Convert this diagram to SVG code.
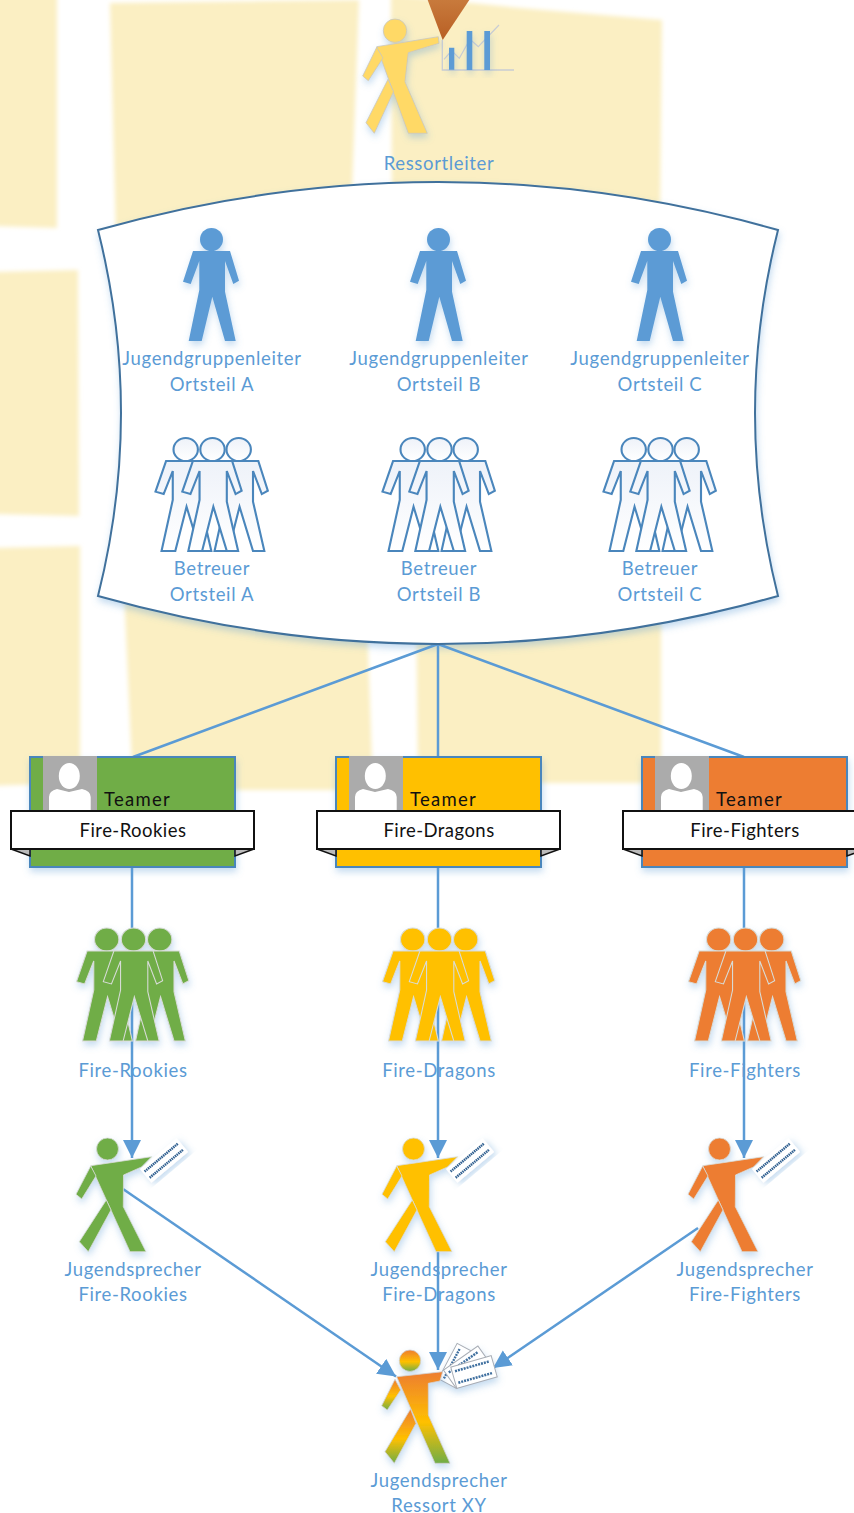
<svg xmlns="http://www.w3.org/2000/svg" width="854" height="1513" viewBox="0 0 854 1513">
<style>
.t{font-family:Lato,"Open Sans",sans-serif;font-size:18.5px;fill:#5B9BD5;text-anchor:middle;letter-spacing:.65px}
.k{font-family:Lato,"Open Sans",sans-serif;font-size:18.5px;fill:#111;text-anchor:middle;letter-spacing:.45px}
.m{letter-spacing:1.3px}
.c{fill:none;stroke:#5B9BD5;stroke-width:2.5}
.b{fill:#FBEFC3}
</style>
<defs>
<filter id="s" x="-20%" y="-20%" width="140%" height="140%"><feDropShadow dx="1" dy="4" stdDeviation="3.5" flood-color="#5B9BD5" flood-opacity=".35"/></filter>
<filter id="bl" filterUnits="userSpaceOnUse" x="-20" y="-20" width="900" height="900"><feGaussianBlur stdDeviation="2"/></filter>
<marker id="a" markerUnits="userSpaceOnUse" markerWidth="20" markerHeight="20" refX="18" refY="10" orient="auto"><path d="M0 1L18 10L0 19Z" fill="#5B9BD5"/></marker>
<linearGradient id="g" x1="0" y1="0" x2="0" y2="1"><stop offset="0" stop-color="#ED7D31"/><stop offset=".55" stop-color="#FFC000"/><stop offset="1" stop-color="#70AD47"/></linearGradient>
<linearGradient id="tri" x1="0" y1="0" x2="0" y2="1"><stop offset="0" stop-color="#C87A3C"/><stop offset="1" stop-color="#B85F24"/></linearGradient>
<linearGradient id="w" x1="0" y1="0" x2="0" y2="1"><stop offset="0" stop-color="#EEF2F9"/><stop offset="1" stop-color="#fff"/></linearGradient>
<g id="man"><circle cx="0" cy="11.500" r="11.500"/><path d="M-18.500 23H18.500L27.500 52.700L21.800 56L13.500 33V63.700L24.200 113H13.500L.8 68.700L-9.800 113H-22.800L-12.200 62V33L-20.800 56L-28.500 53.700Z"/></g>
<g id="trio"><use href="#man" transform="translate(-26.300) scale(1.06 1)"/><use href="#man" transform="translate(26.700) scale(1.06 1)"/><use href="#man" transform="translate(.5) scale(1.06 1)"/></g>
<g id="walk"><circle cx="0" cy="11.700" r="11.700"/><path d="M-18.300 27.700L43.300 17.700L44 24.300L13.300 33.700L10 62.700L32.300 114.300H13.300Z"/><path d="M-18.300 28.300L-32.300 57L-26.700 61.700L-12 39Z"/><path d="M-7 60.300L-29 103.700L-20.700 114.300L-1.500 72.700Z"/></g>
<g id="walk2"><circle cx="0" cy="11" r="11"/><path d="M-16.800 27.700L44.200 18.700L34 29L16 37L15.800 68.700L38.500 113.700H22.500Z"/><path d="M-16.800 28L-31.500 56.300L-25.800 61L-11.500 38Z"/><path d="M-1.200 62L-28.200 103.700L-19.200 113.700L3.500 72Z"/></g>
<g id="paper"><g transform="rotate(-40)"><rect x="-24" y="-9" width="48" height="18" fill="#fff" filter="url(#s)"/><path d="M-22 -4H22M-22 4H22" stroke="#2F5F90" stroke-width="2.500" stroke-dasharray="1.500 .7" fill="none"/></g></g>
<g id="sheet"><rect x="-21" y="-11" width="42" height="22" fill="#fff" stroke="#A8ADB5"/><path d="M-18 -6H18M-18 6H18" stroke="#3F6F9F" stroke-width="2.500" stroke-dasharray="2 1" fill="none"/></g>
<g id="card">
<rect x="30" y="757" width="205" height="110" stroke="#4A86BC" stroke-width="2" filter="url(#s)"/>
<rect x="43" y="756" width="54" height="56" fill="#ABABAB"/>
<ellipse cx="69.300" cy="776" rx="10.500" ry="13" fill="#fff"/>
<path d="M49 811V797Q49 791 57 789L69 792L82 789Q90.700 791 90.700 797V811Z" fill="#fff"/>
<path d="M11 849L30 856V849ZM254 849L235 856V849Z" fill="#bbb" stroke="#111" stroke-width="1.500"/>
<rect x="11" y="811" width="243" height="38" fill="#fff" stroke="#111" stroke-width="2"/>
</g>
</defs>

<rect width="854" height="1513" fill="#fff"/>
<g id="background" filter="url(#bl)">
<path class="b" d="M-10 -10H57V228L-10 226Z"/>
<path class="b" d="M110 3L359 0L352 190L116 240Z"/>
<path class="b" d="M391 -5L520 8L662 20L660 220L392 220Z"/>
<path class="b" d="M-10 272L78 270L79 516L-10 514Z"/>
<path class="b" d="M-10 548L80 546V783L-10 786Z"/>
<path class="b" d="M124 590H366L373 790L133 790Z"/>
<path class="b" d="M416 590H661V783L418 783Z"/>
</g>

<g id="connectors">
<path class="c" d="M438 644L133 757M438 644V757M438 644L744 757"/>
<path class="c" d="M132 868V1158" marker-end="url(#a)"/>
<path class="c" d="M438 868V1158" marker-end="url(#a)"/>
<path class="c" d="M744 868V1158" marker-end="url(#a)"/>
<path class="c" d="M123 1189L396 1376.500" marker-end="url(#a)"/>
<path class="c" d="M438 1240V1370" marker-end="url(#a)"/>
<path class="c" d="M698 1228L493 1368" marker-end="url(#a)"/>
</g>

<g id="ressortleiter">
<path d="M427.700 0H469.300L442.700 40Z" fill="url(#tri)"/>
<g fill="none" stroke="#C9CDD4"><path d="M442.300 40V70H514" stroke-width="1.300"/><path d="M444 59.300L451.700 50.700L459.300 58.300L470 39.300L478.300 46.700L499 25" stroke-width="1.200"/></g>
<path d="M449 47.700h5.300v22h-5.300zM466.700 31h5.600v39h-5.600zM484.300 31h5.700v39h-5.700z" fill="#5B9BD5" filter="url(#s)"/>
<use href="#walk" x="395" y="19" fill="#FFD966" stroke="#C8C8C0" stroke-width=".8" filter="url(#s)"/>
<text class="t" x="439" y="169.500">Ressortleiter</text>
</g>

<g id="group-box">
<path d="M98 230Q438 134 778 230Q732 413 778 596Q438 692 98 596Q144 413 98 230Z" fill="#fff" stroke="#41719C" stroke-width="2" filter="url(#s)"/>
</g>

<g id="leiter-a"><use href="#man" x="211.500" y="228" fill="#5B9BD5" filter="url(#s)"/><text class="t" x="212" y="364.500">Jugendgruppenleiter</text><text class="t" x="212" y="390.500">Ortsteil A</text></g>
<g id="leiter-b"><use href="#man" x="438.500" y="228" fill="#5B9BD5" filter="url(#s)"/><text class="t" x="439" y="364.500">Jugendgruppenleiter</text><text class="t" x="439" y="390.500">Ortsteil B</text></g>
<g id="leiter-c"><use href="#man" x="659.500" y="228" fill="#5B9BD5" filter="url(#s)"/><text class="t" x="660" y="364.500">Jugendgruppenleiter</text><text class="t" x="660" y="390.500">Ortsteil C</text></g>

<g id="betreuer-a"><use href="#trio" x="212" y="438" fill="url(#w)" stroke="#4A86BC" stroke-width="2"/><text class="t" x="212" y="574.500">Betreuer</text><text class="t" x="212" y="600.500">Ortsteil A</text></g>
<g id="betreuer-b"><use href="#trio" x="439" y="438" fill="url(#w)" stroke="#4A86BC" stroke-width="2"/><text class="t" x="439" y="574.500">Betreuer</text><text class="t" x="439" y="600.500">Ortsteil B</text></g>
<g id="betreuer-c"><use href="#trio" x="660" y="438" fill="url(#w)" stroke="#4A86BC" stroke-width="2"/><text class="t" x="660" y="574.500">Betreuer</text><text class="t" x="660" y="600.500">Ortsteil C</text></g>

<g id="team-rookies"><use href="#card" fill="#70AD47"/><text class="k m" x="137.500" y="806">Teamer</text><text class="k" x="133" y="837">Fire-Rookies</text></g>
<g id="team-dragons"><use href="#card" x="306" fill="#FFC000"/><text class="k m" x="443.500" y="806">Teamer</text><text class="k" x="439" y="837">Fire-Dragons</text></g>
<g id="team-fighters"><use href="#card" x="612" fill="#ED7D31"/><text class="k m" x="749.500" y="806">Teamer</text><text class="k" x="745" y="837">Fire-Fighters</text></g>

<g id="group-rookies"><use href="#trio" x="133" y="928" fill="#70AD47" stroke="#D8DCD8" stroke-width="1" filter="url(#s)"/><text class="t" x="133" y="1076.500">Fire-Rookies</text></g>
<g id="group-dragons"><use href="#trio" x="439" y="928" fill="#FFC000" stroke="#D8DCD8" stroke-width="1" filter="url(#s)"/><text class="t" x="439" y="1076.500">Fire-Dragons</text></g>
<g id="group-fighters"><use href="#trio" x="745" y="928" fill="#ED7D31" stroke="#D8DCD8" stroke-width="1" filter="url(#s)"/><text class="t" x="745" y="1076.500">Fire-Fighters</text></g>

<g id="sprecher-rookies"><use href="#walk2" x="107.500" y="1138" fill="#70AD47" stroke="#D8DCD8" stroke-width=".8" filter="url(#s)"/><use href="#paper" x="164" y="1160.500"/><text class="t" x="133" y="1275.500">Jugendsprecher</text><text class="t" x="133" y="1300.500">Fire-Rookies</text></g>
<g id="sprecher-dragons"><use href="#walk2" x="413.500" y="1138" fill="#FFC000" stroke="#D8DCD8" stroke-width=".8" filter="url(#s)"/><use href="#paper" x="470" y="1160.500"/><text class="t" x="439" y="1275.500">Jugendsprecher</text><text class="t" x="439" y="1300.500">Fire-Dragons</text></g>
<g id="sprecher-fighters"><use href="#walk2" x="719.500" y="1138" fill="#ED7D31" stroke="#D8DCD8" stroke-width=".8" filter="url(#s)"/><use href="#paper" x="776" y="1160.500"/><text class="t" x="745" y="1275.500">Jugendsprecher</text><text class="t" x="745" y="1300.500">Fire-Fighters</text></g>

<g id="sprecher-ressort">
<g filter="url(#s)">
<use href="#sheet" transform="translate(457 1366) rotate(-62) scale(.95)"/>
<use href="#sheet" transform="translate(467 1367) rotate(-35)"/>
<use href="#sheet" transform="translate(474 1372) rotate(-16)"/>
</g>
<g fill="url(#g)" stroke="#D0D0D0" stroke-width=".8" filter="url(#s)"><circle cx="410" cy="1360.700" r="10.700"/><path d="M396.700 1376.700L442.700 1371.700L440 1381L428.300 1383.300V1415L450 1463.300H435Z"/><path d="M395 1379.300L381.700 1405.700L387.300 1410L400.700 1390Z"/><path d="M410.500 1409L385 1451.700L394.300 1463.300L416 1423.300Z"/></g>
<text class="t" x="439" y="1486.500">Jugendsprecher</text><text class="t" x="439" y="1511.500">Ressort XY</text>
</g>
</svg>
